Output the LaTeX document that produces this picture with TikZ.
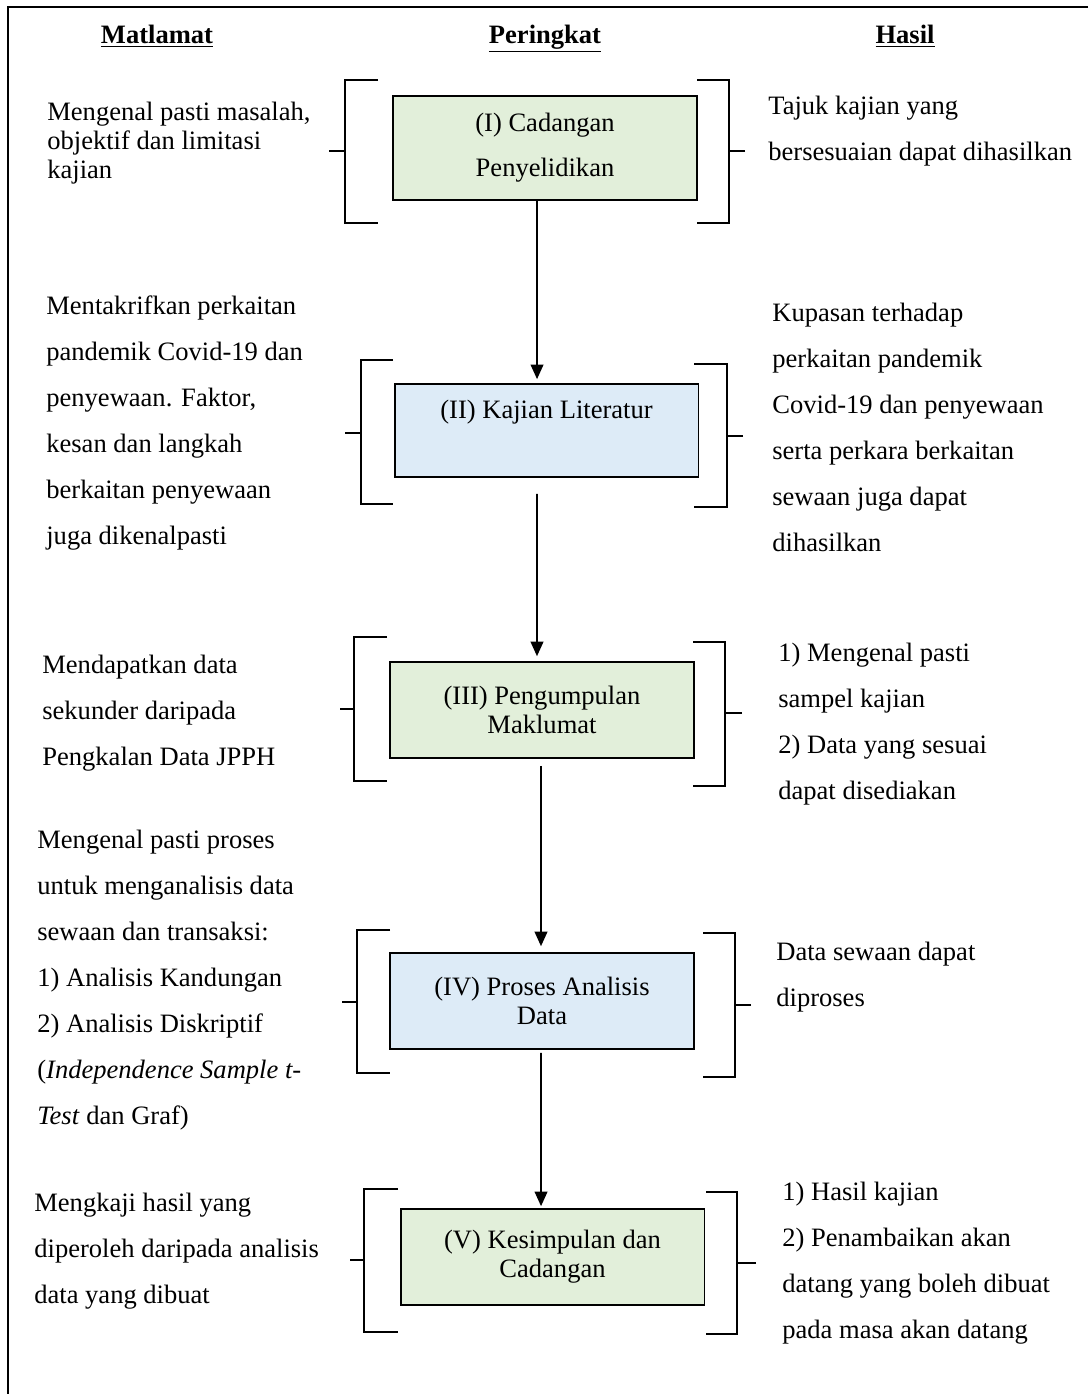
\documentclass[tikz,border=0pt]{standalone}
\usepackage{fontspec}
\setmainfont{Liberation Serif}
\usetikzlibrary{arrows.meta}
\definecolor{boxgreen}{RGB}{226,239,218}
\definecolor{boxblue}{RGB}{221,235,247}
\begin{document}
\begin{tikzpicture}[x=0.55pt, y=-0.55pt,
    stage/.style={rectangle, draw, line width=0.9pt, minimum width=167pt, minimum height=52.8pt, inner sep=0pt, align=center, font=\fontsize{14.6}{16}\selectfont},
    note/.style={anchor=west, align=left, inner sep=0pt, font=\fontsize{14.6}{25.3}\selectfont},
    head/.style={inner sep=0pt, text height=10pt, text depth=4pt, font=\fontsize{14.6}{16}\selectfont\bfseries},
    flow/.style={-{Triangle[width=7pt,length=8pt]}, line width=0.9pt},
    brk/.style={line width=0.9pt}]
    \useasboundingbox (0,0) rectangle (1088,1394);

    % frame
    \draw[line width=0.6pt] (1088,7) -- (8,7) -- (8,1394);
    \draw[line width=1.4pt] (257,7) -- (392,7) (697,7) -- (778,7) (1034,7) -- (1088,7);

    % column heads
    \node (matlamat) [head] at (157,38) {\underline{Matlamat}};
    \node (peringkat) [head] at (545,38) {\underline{Peringkat}};
    \node (hasil) [head] at (905,38) {\underline{Hasil}};

    % stages
    \node (cadangan) [stage, fill=boxgreen, minimum height=57.2pt, font=\fontsize{14.6}{24.75}\selectfont] at (545,148) {(I) Cadangan\\Penyelidikan};
    \node (kajian) [stage, fill=boxblue, minimum height=51.2pt, text depth=22.8pt] at (546.5,430.5) {(II) Kajian Literatur};
    \node (kumpul) [stage, fill=boxgreen] at (542,710) {(III) Pengumpulan\\Maklumat};
    \node (analisis) [stage, fill=boxblue] at (542,1001) {(IV) Proses Analisis\\Data};
    \node (simpulan) [stage, fill=boxgreen] at (552.5,1257) {(V) Kesimpulan dan\\Cadangan};

    \draw[flow] ([xshift=-4.4pt]cadangan.south) -- ([xshift=-5.2pt, yshift=2.2pt]kajian.north);
    \draw[flow] ([xshift=-5.2pt, yshift=-8.8pt]kajian.south) -- ([xshift=-2.75pt, yshift=2.75pt]kumpul.north);
    \draw[flow] ([xshift=-0.55pt, yshift=-3.85pt]kumpul.south) -- ([xshift=-0.55pt, yshift=3.3pt]analisis.north);
    \draw[flow] ([xshift=-0.55pt, yshift=-1.65pt]analisis.south) -- ([xshift=-6.3pt, yshift=1.1pt]simpulan.north);

    % brackets
    \foreach \x/\t/\b/\e/\k/\m in {345/80/223/378/329/151, 729/80/223/697/745/151,
        361/360/504/393/345/433, 727/364/507/694/743/436,
        354/637/781/387/340/709, 725/642/786/693/742/713,
        357/930/1073/390/342/1002, 735/933/1077/703/751/1005,
        364/1189/1332/398/350/1260, 737/1192/1334/706/756/1263}
        \draw[brk] (\e,\t) -- (\x,\t) -- (\x,\b) -- (\e,\b) (\k,\m) -- (\x,\m);

    % aims
    \node (m1) [note, font=\fontsize{14.6}{15.95}\selectfont] at (47,143.5) {Mengenal pasti masalah,\\objektif dan limitasi\\kajian};
    \node (m2) [note] at (46,423) {Mentakrifkan perkaitan\\pandemik Covid-19 dan\\penyewaan. Faktor,\\kesan dan langkah\\berkaitan penyewaan\\juga dikenalpasti};
    \node (m3) [note] at (42,713.5) {Mendapatkan data\\sekunder daripada\\Pengkalan Data JPPH};
    \node (m4) [note] at (37,980) {Mengenal pasti proses\\untuk menganalisis data\\sewaan dan transaksi:\\1) Analisis Kandungan\\2) Analisis Diskriptif\\(\textit{Independence Sample t-}\\\textit{Test} dan Graf)};
    \node (m5) [note] at (34,1251) {Mengkaji hasil yang\\diperoleh daripada analisis\\data yang dibuat};

    % results
    \node (h1) [note] at (768,131) {Tajuk kajian yang\\bersesuaian dapat dihasilkan};
    \node (h2) [note] at (772,427) {Kupasan terhadap\\perkaitan pandemik\\Covid-19 dan penyewaan\\serta perkara berkaitan\\sewaan juga dapat\\dihasilkan};
    \node (h3) [note] at (778,724.5) {1) Mengenal pasti\\sampel kajian\\2) Data yang sesuai\\dapat disediakan};
    \node (h4) [note] at (776,977) {Data sewaan dapat\\diproses};
    \node (h5) [note] at (782,1263) {1) Hasil kajian\\2) Penambaikan akan\\datang yang boleh dibuat\\pada masa akan datang};
\end{tikzpicture}
\end{document}
